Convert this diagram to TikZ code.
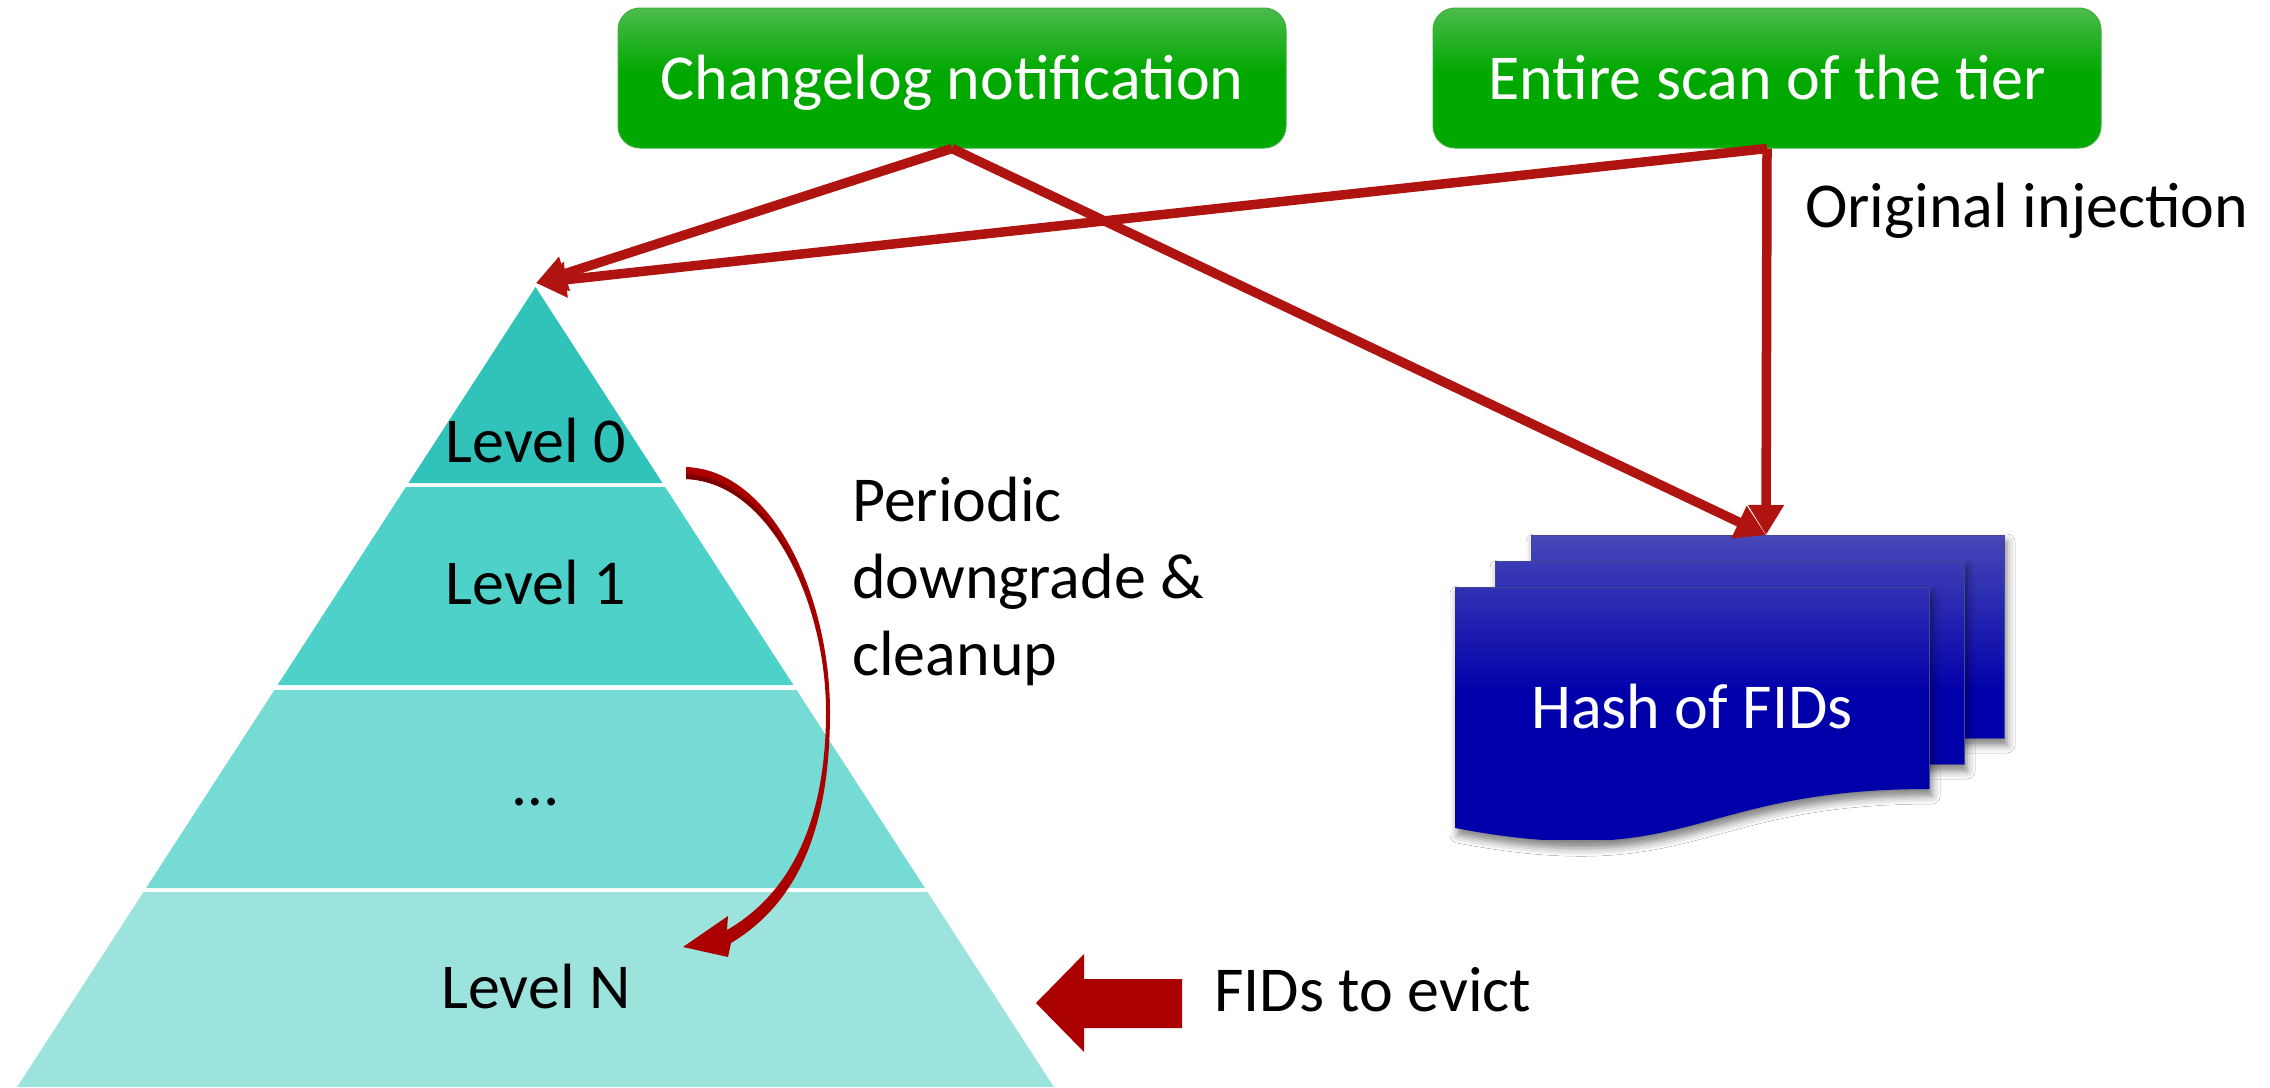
\documentclass[tikz,border=0pt]{standalone}
\usepackage{fontspec}
\setmainfont{Carlito}
\usetikzlibrary{arrows.meta,shadows.blur}

\definecolor{arrowred}{RGB}{175,20,16}
\definecolor{evictred}{RGB}{170,0,0}
\definecolor{evictdark}{RGB}{125,0,0}
\definecolor{gtop}{RGB}{76,187,76}
\definecolor{gbot}{RGB}{0,168,0}
\definecolor{gedge}{RGB}{60,175,60}
\definecolor{btop}{RGB}{72,72,184}
\definecolor{bbot}{RGB}{0,0,170}
\definecolor{bedge}{RGB}{70,70,150}
\definecolor{lvlA}{RGB}{49,194,185}
\definecolor{lvlB}{RGB}{78,209,201}
\definecolor{lvlC}{RGB}{117,219,212}
\definecolor{lvlD}{RGB}{156,227,222}

% vertical shadings: 25bp = bottom of the path, 75bp = top
\pgfdeclareverticalshading{greenbox}{100bp}{color(0bp)=(gbot); color(52bp)=(gbot); color(75bp)=(gtop); color(100bp)=(gtop)}
\pgfdeclareverticalshading{bluesheets}{100bp}{color(0bp)=(bbot); color(49bp)=(bbot); color(75bp)=(btop); color(100bp)=(btop)}

\tikzset{
  bigfont/.style={font=\fontsize{64bp}{77bp}\selectfont},
  gbox/.style={bigfont, text=white, shading=greenbox, draw=gedge, line width=1bp,
    rounded corners=22bp, minimum width=668bp, minimum height=140bp,
    text height=42bp, text depth=0bp, inner sep=0pt},
  lbl/.style={bigfont, inner sep=0pt, anchor=base west},
  lvltext/.style={bigfont, inner sep=0pt, anchor=base},
  conn/.style={draw=arrowred, line width=9.5bp, -{Triangle[length=30bp,width=34bp]}},
  sheetedge/.style={draw=bedge, line width=1bp},
  sheetshadow/.style={blur shadow={shadow xshift=3bp, shadow yshift=-7bp,
    shadow blur radius=8bp, shadow opacity=50}},
}

\begin{document}
\begin{tikzpicture}[x=1bp,y=-1bp]
\useasboundingbox (0,0) rectangle (2270,1087);
\fill[white] (0,0) rectangle (2270,1087);

% source boxes
\node[gbox] (chg) at (952,78) {Changelog notification};
\node[gbox] (scan) at (1767,78) {Entire scan of the tier};
\node[lbl] (orig) at (1805,227) {Original injection};

% pyramid of levels
\fill[lvlA] (535.5,287) -- (662.5,483) -- (408.5,483) -- cycle;
\fill[lvlB] (405.9,487) -- (665.1,487) -- (793.4,685) -- (277.6,685) -- cycle;
\fill[lvlC] (274.4,690) -- (796.6,690) -- (924.9,888) -- (146.1,888) -- cycle;
\fill[lvlD] (143.5,892) -- (927.5,892) -- (1053.9,1087) -- (17.1,1087) -- cycle;
\node[lvltext] (lvl0) at (536,462) {Level 0};
\node[lvltext] (lvl1) at (536,604) {Level 1};
\node[lvltext] (lvldots) at (536,805) {…};
\node[lvltext] (lvlN) at (536,1008) {Level N};
\coordinate (apex) at (536,283);

% stacked hash documents
\coordinate (hashin) at (1766,535);
\path[sheetshadow] (1531,535) rectangle (2004,738);
\begin{scope}
  \clip (1531,535) rectangle (2004,738);
  \shade[shading=bluesheets] (1455,535) rectangle (2004,839);
\end{scope}
\draw[sheetedge] (1531,535) rectangle (2004,738);
\path[sheetshadow] (1495,561) rectangle (1964,764);
\begin{scope}
  \clip (1495,561) rectangle (1964,764);
  \shade[shading=bluesheets] (1455,535) rectangle (2004,839);
\end{scope}
\draw[sheetedge] (1495,561) rectangle (1964,764);
\path[sheetshadow] (1455,587) -- (1929,587) -- (1929,789)
  .. controls (1692,789) and (1692,873) .. (1455,828) -- cycle;
\begin{scope}
  \clip (1455,587) -- (1929,587) -- (1929,789)
    .. controls (1692,789) and (1692,873) .. (1455,828) -- cycle;
  \shade[shading=bluesheets] (1455,535) rectangle (2004,839);
\end{scope}
\draw[sheetedge] (1455,587) -- (1929,587) -- (1929,789);
\node[lvltext, text=white] (hash) at (1692,728) {Hash of FIDs};

% injection arrows
\draw[conn] (chg.south) -- (apex);
\draw[conn] (scan.south) -- (apex);
\draw[conn] (chg.south) -- (hashin);
\draw[conn] (scan.south) -- (hashin);

% periodic downgrade: curved arrow from level 0 to level N
\coordinate (downfrom) at (686,473);
\coordinate (downto) at (683,947);
\fill[evictred] (686,467) .. controls (772,470) and (830,595) .. (830,712)
  .. controls (830,835) and (794,905) .. (731,943) -- (728,957) -- (downto)
  -- (728,916) -- (727,930) .. controls (786,896) and (826,828) .. (826,712)
  .. controls (826,603) and (770,482) .. (686,479) -- cycle;
% darker inner rim on the upper part of the curve
\fill[evictdark] (686,474) .. controls (768,478) and (823,590) .. (826,690)
  .. controls (826,603) and (770,482) .. (686,479) -- cycle;
\node[lbl] (per1) at (852,521) {Periodic};
\node[lbl] (per2) at (852,598) {downgrade \&};
\node[lbl] (per3) at (852,675) {cleanup};

% eviction block arrow
\fill[evictred] (1036,1003) -- (1084,954) -- (1084,979) -- (1182,979)
  -- (1182,1028) -- (1084,1028) -- (1084,1052) -- cycle;
\node[lbl] (evict) at (1214,1011) {FIDs to evict};
\end{tikzpicture}
\end{document}
